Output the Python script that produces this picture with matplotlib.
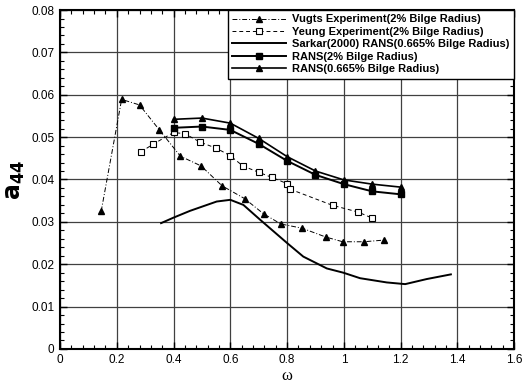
import matplotlib
matplotlib.use('Agg')
import matplotlib.pyplot as plt
from matplotlib.legend_handler import HandlerLine2D
from matplotlib.ticker import MultipleLocator, FormatStrFormatter
import numpy as np

# values
vugts_w = [0.145, 0.217, 0.28, 0.35, 0.424, 0.497, 0.571, 0.650, 0.717, 0.778, 0.853, 0.937, 0.996, 1.070, 1.142]
vugts_a = [0.0325, 0.0589, 0.0576, 0.0517, 0.0455, 0.0432, 0.0385, 0.0355, 0.0319, 0.0295, 0.0285, 0.0264, 0.0253, 0.0253, 0.0257]

yeung_w = [0.285, 0.327, 0.40, 0.44, 0.494, 0.55, 0.60, 0.644, 0.70, 0.746, 0.801, 0.811, 0.960, 1.051, 1.099]
yeung_a = [0.0465, 0.0483, 0.0511, 0.0508, 0.0488, 0.0474, 0.0456, 0.0432, 0.0417, 0.0405, 0.0390, 0.0377, 0.0339, 0.0323, 0.0309]

sarkar_w = [0.356, 0.40, 0.458, 0.552, 0.60, 0.646, 0.705, 0.80, 0.857, 0.94, 0.998, 1.057, 1.151, 1.216, 1.292, 1.377]
sarkar_a = [0.0297, 0.0310, 0.0326, 0.0348, 0.0352, 0.0340, 0.0305, 0.0250, 0.0218, 0.0190, 0.0180, 0.0167, 0.0157, 0.0153, 0.0165, 0.0176]

rans2_w = [0.4, 0.5, 0.6, 0.7, 0.8, 0.9, 1.0, 1.1, 1.2]
rans2_a = [0.0522, 0.0525, 0.0517, 0.0484, 0.0444, 0.0411, 0.0389, 0.0372, 0.0365]

rans0665_w = [0.4, 0.5, 0.6, 0.7, 0.8, 0.9, 1.0, 1.1, 1.2]
rans0665_a = [0.0542, 0.0545, 0.0533, 0.0497, 0.0454, 0.0420, 0.0399, 0.0389, 0.0382]

labels = ['Vugts Experiment(2% Bilge Radius)',
          'Yeung Experiment(2% Bilge Radius)',
          'Sarkar(2000) RANS(0.665% Bilge Radius)',
          'RANS(2% Bilge Radius)',
          'RANS(0.665% Bilge Radius)']


# legend handler that puts the single marker at the left end of the line
class LeftMarker(HandlerLine2D):
    def get_xdata(self, legend, xdescent, ydescent, width, height, fontsize):
        xdata = np.array([-xdescent, -xdescent + width], float)
        return xdata, np.array([-xdescent])


plt.rcParams['font.family'] = ['Liberation Sans', 'DejaVu Sans']

fig = plt.figure(figsize=(5.22, 3.86), dpi=100)
ax = fig.add_axes([0.115, 0.096, 0.870, 0.878])

ax.plot(vugts_w, vugts_a, color='k', lw=0.7, ls=(0, (5, 2, 1, 2)), marker='^', ms=4, label=labels[0])
ax.plot(yeung_w, yeung_a, color='k', lw=0.7, ls=(0, (4, 3)), marker='s', ms=4, mfc='white', mew=0.8, label=labels[1])
ax.plot(sarkar_w, sarkar_a, color='k', lw=1.4, label=labels[2])
ax.plot(rans2_w, rans2_a, color='k', lw=1.4, marker='s', ms=4.5, label=labels[3])
ax.plot(rans0665_w, rans0665_a, color='k', lw=1.2, marker='^', ms=4, label=labels[4])

ax.set_xlim(0, 1.6)
ax.set_ylim(0, 0.08)
ax.xaxis.set_major_locator(MultipleLocator(0.2))
ax.xaxis.set_minor_locator(MultipleLocator(0.04))
ax.yaxis.set_major_locator(MultipleLocator(0.01))
ax.yaxis.set_minor_locator(MultipleLocator(0.002))
ax.xaxis.set_major_formatter(FormatStrFormatter('%g'))
ax.yaxis.set_major_formatter(FormatStrFormatter('%g'))
ax.tick_params(which='both', direction='in', top=True, right=True, labelsize=8.5, pad=4)
ax.tick_params(which='major', length=5, width=1)
ax.tick_params(which='minor', length=3, width=0.8)
ax.grid(True, which='major', color='0.25', lw=0.9)
for s in ax.spines.values():
    s.set_linewidth(1.5)

ax.set_xlabel('ω', family='Liberation Serif', fontsize=12, labelpad=1)
ax.set_ylabel('$\\mathbf{a_{44}}$', fontsize=17, labelpad=3)

leg = ax.legend(loc='upper right', borderaxespad=0, prop={'weight': 'bold', 'size': 8},
                handlelength=4.8, handletextpad=0.6, labelspacing=0.22, borderpad=0.4,
                fancybox=False, framealpha=1, edgecolor='k',
                handler_map={plt.Line2D: LeftMarker(numpoints=1)})
leg.get_frame().set_linewidth(1.0)

fig.savefig('out.png', dpi=100)
